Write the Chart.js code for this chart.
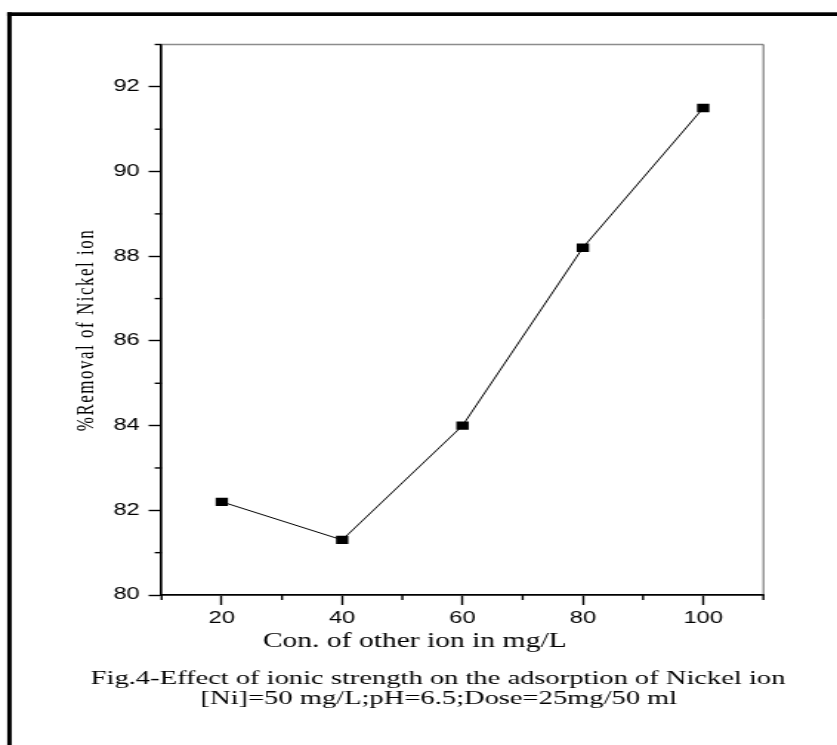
<!DOCTYPE html>
<html lang="en">
<head>
<meta charset="UTF-8">
<title>Effect of ionic strength on Nickel ion removal</title>
<script src="https://cdn.jsdelivr.net/npm/chart.js"></script>
<style>
  html, body { margin: 0; padding: 0; background: #fff; overflow: hidden; }
  /* the original figure is stretched sideways, so draw narrow and widen it */
  #wrap { width: 566px; height: 745px; transform-origin: 0 0; transform: scaleX(1.4788); }
</style>
</head>
<body>
<div id="wrap"><canvas id="chart" width="566" height="745"></canvas></div>
<script>
const concentrations = [20, 40, 60, 80, 100];
const removal = [82.2, 81.3, 84.0, 88.2, 91.5];
const xMajorTicks = [20, 40, 60, 80, 100];
const xMinorTicks = [10, 30, 50, 70, 90, 110];
const yMajorTicks = [80, 82, 84, 86, 88, 90, 92];
const yMinorTicks = [81, 83, 85, 87, 89, 91, 93];

const xTitle = 'Con. of other ion in mg/L';
const yTitle = '%Removal of Nickel ion';
const captionLines = [
  'Fig.4-Effect of ionic strength on the adsorption of Nickel ion',
  '[Ni]=50 mg/L;pH=6.5;Dose=25mg/50 ml'
];

const serif = '"Liberation Serif", "Times New Roman", serif';

// frame, box lines, minor ticks and the texts around the plot
const figureExtras = {
  id: 'figureExtras',
  afterDraw(chart) {
    const ctx = chart.ctx;
    const a = chart.chartArea;
    const xs = chart.scales.x, ys = chart.scales.y;
    ctx.save();

    // thick frame on the left and top of the figure
    ctx.fillStyle = '#000';
    ctx.fillRect(4.9, 12.3, 3.0, 745);
    ctx.fillRect(4.9, 12.3, 570, 3.7);

    // top and right edges of the plot box
    ctx.strokeStyle = '#8c8c8c';
    ctx.lineWidth = 1.3;
    ctx.beginPath(); ctx.moveTo(a.left, a.top); ctx.lineTo(a.right, a.top); ctx.stroke();
    ctx.strokeStyle = '#3a3a3a';
    ctx.lineWidth = 0.8;
    ctx.beginPath(); ctx.moveTo(a.right, a.top); ctx.lineTo(a.right, a.bottom); ctx.stroke();

    // minor ticks
    ctx.strokeStyle = '#000';
    ctx.lineWidth = 1.4;
    xMinorTicks.forEach(v => {
      const px = xs.getPixelForValue(v);
      ctx.beginPath(); ctx.moveTo(px, a.bottom); ctx.lineTo(px, a.bottom + 5); ctx.stroke();
    });
    yMinorTicks.forEach(v => {
      const py = ys.getPixelForValue(v);
      ctx.beginPath(); ctx.moveTo(a.left - 4.7, py); ctx.lineTo(a.left, py); ctx.stroke();
    });

    // axis titles and caption
    ctx.fillStyle = '#000';
    ctx.textAlign = 'center';
    ctx.textBaseline = 'alphabetic';
    ctx.font = '20px ' + serif;
    ctx.fillText(xTitle, 280.4, 647);
    ctx.font = '19.3px ' + serif;
    ctx.fillText(captionLines[0], 296.2, 684);
    ctx.fillText(captionLines[1], 296.8, 703.5);

    ctx.translate(62.8, 330);
    ctx.rotate(-Math.PI / 2);
    ctx.font = '17px ' + serif;
    ctx.letterSpacing = '1.5px';
    ctx.fillText(yTitle, 0, 0);
    ctx.restore();
  }
};

new Chart(document.getElementById('chart'), {
  type: 'line',
  data: {
    datasets: [{
      data: concentrations.map((c, i) => ({ x: c, y: removal[i] })),
      borderColor: '#000',
      borderWidth: 1,
      pointStyle: 'rect',
      pointRadius: 5.9,
      pointBorderWidth: 0,
      pointBackgroundColor: '#000',
      tension: 0
    }]
  },
  options: {
    responsive: false,
    animation: false,
    layout: { padding: { left: 0, right: 49.8, top: 44.5, bottom: 0 } },
    plugins: { legend: { display: false }, tooltip: { enabled: false } },
    scales: {
      x: {
        type: 'linear',
        min: 10,
        max: 110,
        afterBuildTicks: s => { s.ticks = xMajorTicks.map(v => ({ value: v })); },
        afterFit: s => { s.height = 150; },
        border: { color: '#000', width: 1.7 },
        grid: { drawOnChartArea: false, tickLength: 10, tickColor: '#000', tickWidth: 1.4 },
        ticks: { color: '#000', font: { family: 'Liberation Sans', size: 16 }, padding: 4, maxRotation: 0, autoSkip: false }
      },
      y: {
        min: 80,
        max: 93,
        afterBuildTicks: s => { s.ticks = yMajorTicks.map(v => ({ value: v })); },
        afterFit: s => { s.width = 109.3; },
        border: { color: '#000', width: 1.7 },
        grid: { drawOnChartArea: false, tickLength: 8.8, tickColor: '#000', tickWidth: 1.4 },
        ticks: { color: '#000', font: { family: 'Liberation Sans', size: 16 }, padding: 6, autoSkip: false }
      }
    }
  },
  plugins: [figureExtras]
});
</script>
</body>
</html>
